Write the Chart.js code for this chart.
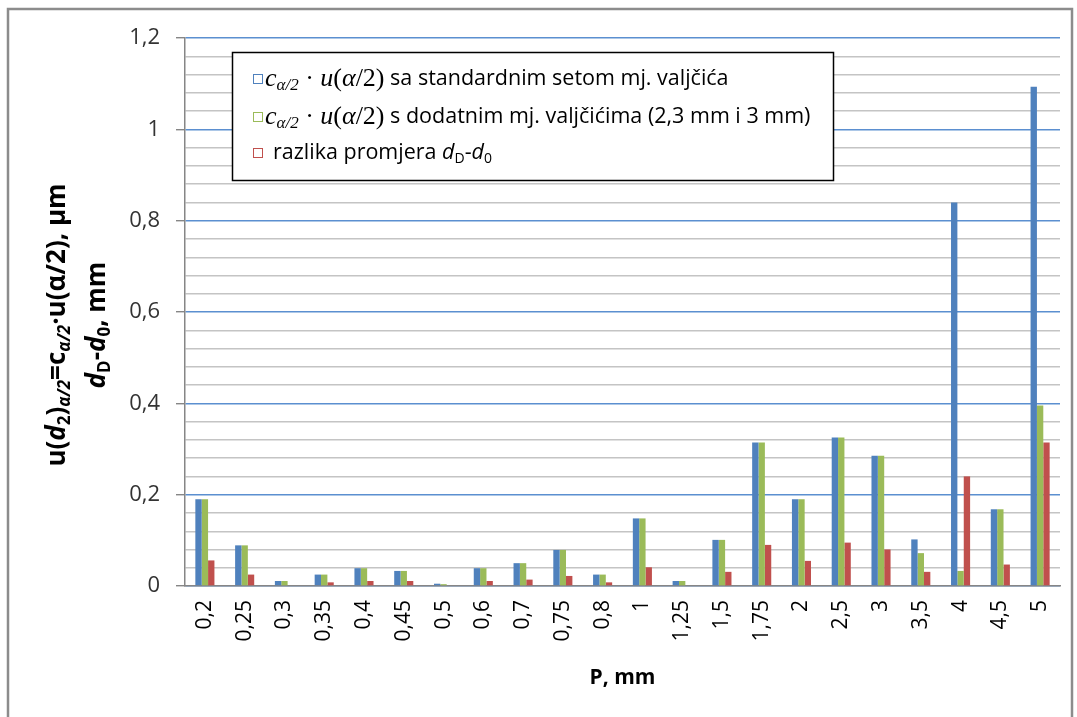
<!DOCTYPE html>
<html>
<head>
<meta charset="utf-8">
<script src="https://cdn.jsdelivr.net/npm/chart.js@4"></script>
<style>
  html, body { margin: 0; padding: 0; background: #fff; }
  #wrap { position: relative; width: 1077px; height: 717px; }
</style>
</head>
<body>
<div id="wrap"><canvas id="pitch-chart"></canvas></div>
<script>
// P, mm
var categories = ['0,2', '0,25', '0,3', '0,35', '0,4', '0,45', '0,5', '0,6', '0,7', '0,75', '0,8',
                  '1', '1,25', '1,5', '1,75', '2', '2,5', '3', '3,5', '4', '4,5', '5'];
// c(a/2)*u(a/2), standard set of wires
var standardSet = [0.190, 0.089, 0.011, 0.025, 0.039, 0.033, 0.005, 0.039, 0.050, 0.079, 0.025,
                   0.148, 0.011, 0.101, 0.314, 0.190, 0.325, 0.285, 0.102, 0.840, 0.168, 1.093];
// c(a/2)*u(a/2), with extra wires (2,3 mm i 3 mm)
var extraWires = [0.190, 0.089, 0.011, 0.025, 0.039, 0.033, 0.004, 0.039, 0.050, 0.079, 0.025,
                  0.148, 0.011, 0.101, 0.314, 0.190, 0.325, 0.285, 0.072, 0.033, 0.168, 0.395];
// dD - d0
var diameterDiff = [0.056, 0.025, 0, 0.008, 0.011, 0.011, 0, 0.011, 0.014, 0.022, 0.008,
                    0.041, 0, 0.031, 0.090, 0.055, 0.095, 0.080, 0.031, 0.240, 0.047, 0.314];
var yMajorLabels = ['0', '0,2', '0,4', '0,6', '0,8', '1', '1,2'];

var BLUE = '#4f81bd', GREEN = '#9bbb59', RED = '#c0504d';

function isMajor(v) {
    var k = v / 0.2;
    return Math.abs(k - Math.round(k)) < 1e-6;
}

// draws a row of text pieces (for sub/italic bits)
function drawRuns(ctx, x, y, parts) {
    parts.forEach(function (p) {
        ctx.font = p.f;
        ctx.fillText(p.t, x, y + (p.dy || 0));
        x += ctx.measureText(p.t).width;
    });
    return x;
}
function runsWidth(ctx, parts) {
    var w = 0;
    parts.forEach(function (p) { ctx.font = p.f; w += ctx.measureText(p.t).width; });
    return w;
}

var extras = {
    id: 'extras',
    beforeDraw: function (chart) {
        var ctx = chart.ctx;
        ctx.save();
        ctx.fillStyle = '#fff';
        ctx.fillRect(0, 0, chart.width, chart.height);
        ctx.strokeStyle = '#8c8c8c';
        ctx.lineWidth = 2.5;
        ctx.strokeRect(8, 9, 1064, 720);
        ctx.restore();
    },
    afterDraw: function (chart) {
        var ctx = chart.ctx;
        ctx.save();
        ctx.fillStyle = '#000';
        ctx.textBaseline = 'middle';

        // y axis title, two rotated lines
        var B = 'bold 26px "Open Sans"', BI = 'italic bold 26px "Open Sans"';
        var S = 'bold 17px "Open Sans"', SI = 'italic bold 17px "Open Sans"';
        var line1 = [
            {t: 'u(', f: B}, {t: 'd', f: BI}, {t: '2', f: S, dy: 7}, {t: ')', f: B},
            {t: 'α/2', f: SI, dy: 7}, {t: '=c', f: B}, {t: 'α/2', f: SI, dy: 7},
            {t: '·u(α/2), µm', f: B}
        ];
        var line2 = [
            {t: 'd', f: BI}, {t: 'D', f: S, dy: 7}, {t: '-', f: B}, {t: 'd', f: BI},
            {t: '0', f: S, dy: 7}, {t: ', mm', f: B}
        ];
        [[line1, 58], [line2, 98]].forEach(function (l) {
            ctx.save();
            ctx.translate(l[1], 325);
            ctx.rotate(-Math.PI / 2);
            drawRuns(ctx, -runsWidth(ctx, l[0]) / 2, 0, l[0]);
            ctx.restore();
        });

        // legend box
        ctx.fillStyle = '#fff';
        ctx.fillRect(232, 52, 601, 128);
        ctx.strokeStyle = '#000';
        ctx.lineWidth = 1.5;
        ctx.strokeRect(232.5, 52.5, 601, 128);

        var M = 'italic 26px "Liberation Serif"', MS = 'italic 17px "Liberation Serif"';
        var MU = '26px "Liberation Serif"', T = '21.5px "Open Sans"', TI = 'italic 21.5px "Open Sans"';
        var TS = '14px "Open Sans"';
        var rows = [
            {c: BLUE, y: 79, x: 265, parts: [
                {t: 'c', f: M}, {t: 'α/2', f: MS, dy: 7}, {t: ' · ', f: MU}, {t: 'u', f: M},
                {t: '(', f: MU}, {t: 'α', f: M}, {t: '/2)', f: MU},
                {t: ' sa standardnim setom mj. valjčića', f: T}]},
            {c: GREEN, y: 117, x: 265, parts: [
                {t: 'c', f: M}, {t: 'α/2', f: MS, dy: 7}, {t: ' · ', f: MU}, {t: 'u', f: M},
                {t: '(', f: MU}, {t: 'α', f: M}, {t: '/2)', f: MU},
                {t: ' s dodatnim mj. valjčićima (2,3 mm i 3 mm)', f: T}]},
            {c: RED, y: 153, x: 273, parts: [
                {t: 'razlika promjera ', f: T}, {t: 'd', f: TI}, {t: 'D', f: TS, dy: 6},
                {t: '-', f: T}, {t: 'd', f: TI}, {t: '0', f: TS, dy: 6}]}
        ];
        rows.forEach(function (r) {
            ctx.strokeStyle = r.c;
            ctx.lineWidth = 1;
            ctx.strokeRect(253.5, r.y - 4.5, 9, 9);
            ctx.fillStyle = '#000';
            drawRuns(ctx, r.x, r.y, r.parts);
        });
        ctx.restore();
    }
};

var ctx = document.getElementById('pitch-chart').getContext('2d');
var chart = new Chart(ctx, {
    type: 'bar',
    data: {
        labels: categories,
        datasets: [
            {label: 'standardni set', data: standardSet, backgroundColor: BLUE},
            {label: 'dodatni valjčići', data: extraWires, backgroundColor: GREEN},
            {label: 'razlika promjera', data: diameterDiff, backgroundColor: RED}
        ]
    },
    options: {
        responsive: true,
        maintainAspectRatio: false,
        animation: false,
        layout: {padding: {top: 38, right: 17, left: 0, bottom: 0}},
        datasets: {bar: {categoryPercentage: 0.48, barPercentage: 1}},
        plugins: {legend: {display: false}, tooltip: {enabled: false}},
        scales: {
            x: {
                grid: {display: false},
                border: {color: '#868686', width: 1.5},
                ticks: {
                    autoSkip: false, minRotation: 90, maxRotation: 90, padding: 6,
                    color: '#000', font: {family: 'Open Sans', size: 21}
                },
                title: {
                    display: true, text: 'P, mm', color: '#000',
                    font: {family: 'Open Sans', size: 21, weight: 'bold'},
                    padding: {top: 0, bottom: 26}
                },
                afterFit: function (s) { s.height = 131; }
            },
            y: {
                min: 0, max: 1.2,
                border: {color: '#868686', width: 1.5},
                grid: {
                    color: function (c) { return isMajor(c.tick.value) ? '#5b8fd0' : '#c4c4c4'; },
                    tickColor: function (c) { return isMajor(c.tick.value) ? '#868686' : 'rgba(0,0,0,0)'; },
                    lineWidth: 1.4,
                    tickLength: 9
                },
                ticks: {
                    stepSize: 0.04, autoSkip: false, padding: 16,
                    color: '#333', font: {family: 'Open Sans', size: 22},
                    callback: function (v) {
                        return isMajor(v) ? yMajorLabels[Math.round(v / 0.2)] : '';
                    }
                },
                afterFit: function (s) { s.width = 185; }
            }
        }
    },
    plugins: [extras]
});
</script>
</body>
</html>
